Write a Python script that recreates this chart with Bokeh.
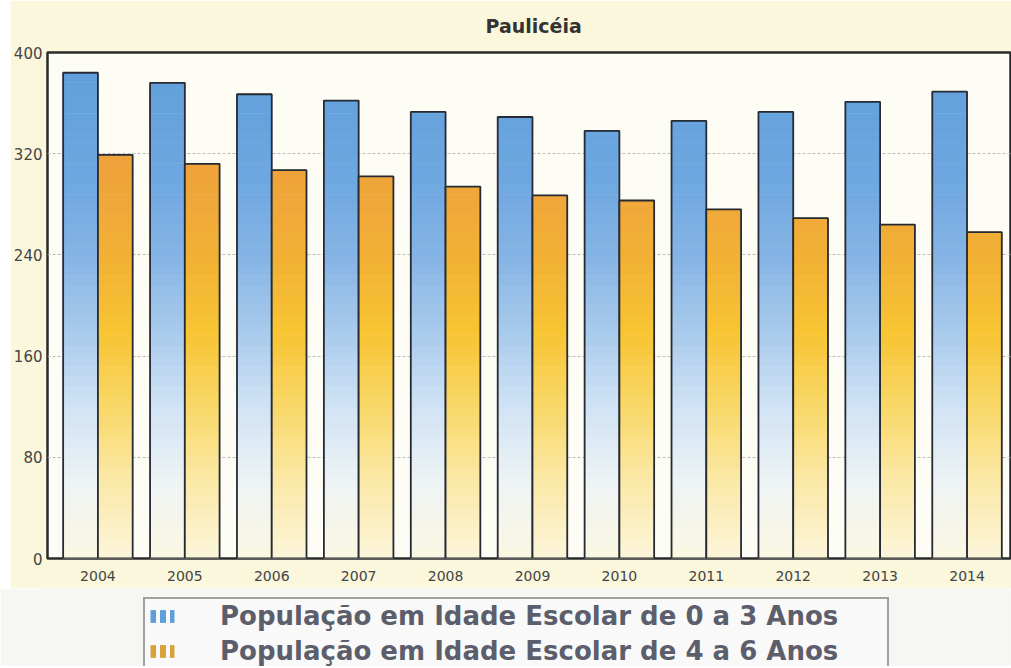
import numpy as np
from bokeh.plotting import figure
from bokeh.models import FixedTicker, Legend, LegendItem, Range1d
from bokeh.layouts import column
from bokeh.embed import file_html
from bokeh.resources import INLINE

# ---------------- data ----------------
years = ["2004", "2005", "2006", "2007", "2008", "2009", "2010", "2011", "2012", "2013", "2014"]
pop_0_3 = [384, 376, 367, 362, 353, 349, 338, 346, 353, 361, 369]
pop_4_6 = [319, 312, 307, 302, 294, 287, 283, 276, 269, 264, 258]
y_ticks = [0, 80, 160, 240, 320, 400]
series_names = ["População em Idade Escolar de 0 a 3 Anos",
                "População em Idade Escolar de 4 a 6 Anos"]
title_text = "Paulicéia"

# ---------------- styling ----------------
CREAM = "#FAF7DC"
blue_stops = [(0, "#FBF7E2"), (60, "#EEF3F4"), (120, "#D0E3F5"), (180, "#A8CAEC"),
              (240, "#84B4E4"), (300, "#6EA7E0"), (400, "#5E9EDB")]
orange_stops = [(0, "#FCF5DA"), (60, "#FBE9A8"), (120, "#F9D868"), (180, "#F7C432"),
                (240, "#F2B035"), (300, "#EFA43A"), (400, "#EB9C3A")]


def hex2rgb(h):
    h = h.lstrip("#")
    return tuple(int(h[i:i + 2], 16) for i in (0, 2, 4))


def grad_color(stops, v):
    for (v0, c0), (v1, c1) in zip(stops[:-1], stops[1:]):
        if v0 <= v <= v1:
            t = (v - v0) / (v1 - v0)
            a, b = hex2rgb(c0), hex2rgb(c1)
            return "#%02x%02x%02x" % tuple(int(round(a[k] + (b[k] - a[k]) * t)) for k in range(3))
    return stops[-1][1]


n = len(years)
xs = np.arange(n)
bar_w = 0.4
offsets = [-0.2, 0.2]

p = figure(width=1001, height=588, output_backend="svg", toolbar_location=None,
           x_range=Range1d(-0.58, 10.50), y_range=Range1d(0, 400),
           min_border_left=37, min_border_right=1, min_border_top=52, min_border_bottom=30,
           title=title_text, margin=(0, 0, 0, 10))
p.border_fill_color = CREAM
p.background_fill_color = "#FDFCF5"
p.outline_line_color = "#2a2a2a"
p.outline_line_width = 2.5

p.title.align = "left"
p.title.offset = 438
p.title.text_font = "DejaVu Sans"
p.title.text_font_size = "19px"
p.title.text_font_style = "bold"
p.title.text_color = "#333333"
p.title.standoff = 27
p.title.vertical_align = "top"

band_edges = np.arange(0, 401, 8)

for vals, off, stops in [(pop_0_3, offsets[0], blue_stops), (pop_4_6, offsets[1], orange_stops)]:
    bx, bb, bt, bc = [], [], [], []
    for i, v in enumerate(vals):
        for lo, hi in zip(band_edges[:-1], band_edges[1:]):
            if lo >= v:
                break
            bx.append(xs[i] + off)
            bb.append(lo)
            bt.append(min(hi, v))
            bc.append(grad_color(stops, (lo + hi) / 2))
    p.vbar(x=bx, bottom=bb, top=bt, width=bar_w, fill_color=bc, line_color=bc, line_width=0.6)
    p.vbar(x=xs + off, top=vals, bottom=0, width=bar_w, fill_alpha=0,
           line_color="#262a33", line_width=1.8)

# axes
p.yaxis.ticker = FixedTicker(ticks=y_ticks)
p.xaxis.ticker = FixedTicker(ticks=list(range(n)))
p.xaxis.major_label_overrides = {i: y for i, y in enumerate(years)}
for ax in (p.xaxis[0], p.yaxis[0]):
    ax.axis_line_color = None
    ax.major_tick_line_color = None
    ax.minor_tick_line_color = None
    ax.major_tick_out = 0
    ax.major_tick_in = 0
    ax.axis_label_standoff = 0
    ax.major_label_text_font = "DejaVu Sans"
    ax.major_label_text_color = "#444444"
p.yaxis.major_label_text_font_size = "15px"
p.yaxis.major_label_standoff = 5
p.xaxis.major_label_text_font_size = "14px"
p.xaxis.major_label_standoff = 12

p.xgrid.grid_line_color = None
p.ygrid.ticker = FixedTicker(ticks=y_ticks)
p.ygrid.grid_line_color = "#bdbdbd"
p.ygrid.grid_line_dash = "3 2"
p.ygrid.grid_line_width = 1

# ---------------- legend panel ----------------
lg = figure(width=1011, height=78, output_backend="svg", toolbar_location=None,
            x_range=Range1d(0, 1), y_range=Range1d(0, 1),
            x_axis_type=None, y_axis_type=None,
            min_border=0, min_border_left=0, min_border_right=0,
            min_border_top=0, min_border_bottom=0)
lg.grid.visible = False
lg.outline_line_color = None
lg.background_fill_color = "#F6F6F3"
lg.border_fill_color = "#F6F6F3"

r1 = lg.vbar(x=[5], top=[5], width=0.1, fill_alpha=0, line_color=None,
             hatch_pattern="|", hatch_color="#5E9EDB", hatch_weight=6, hatch_scale=10)
r2 = lg.vbar(x=[5], top=[5], width=0.1, fill_alpha=0, line_color=None,
             hatch_pattern="|", hatch_color="#D9A13C", hatch_weight=6, hatch_scale=10)
legend = Legend(items=[LegendItem(label=series_names[0], renderers=[r1]),
                       LegendItem(label=series_names[1], renderers=[r2])],
                location=(106, -4))
legend.label_text_font = "DejaVu Sans"
legend.label_text_font_size = "26px"
legend.label_text_font_style = "bold"
legend.label_text_color = "#5c5f6b"
legend.label_height = 28
legend.label_width = 665
legend.glyph_width = 30
legend.glyph_height = 16
legend.label_standoff = 43
legend.spacing = 5
legend.padding = 2
legend.margin = 0
legend.border_line_color = "#4a4a4a"
legend.border_line_width = 2
legend.background_fill_color = "#F9F9F9"
legend.background_fill_alpha = 1
lg.add_layout(legend)

layout = column(p, lg, spacing=0)
open("out.html", "w").write(file_html(layout, INLINE))
